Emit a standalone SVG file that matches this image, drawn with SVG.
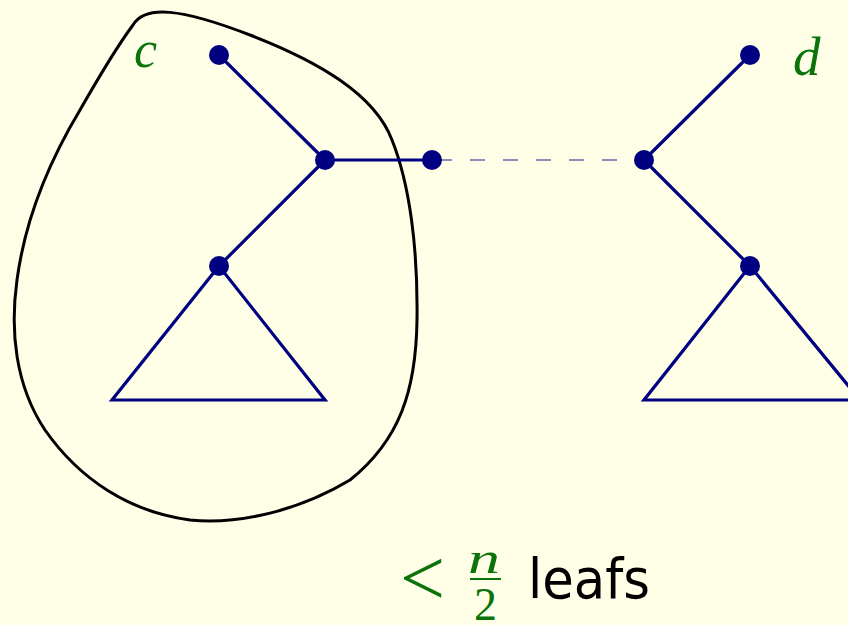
<svg xmlns="http://www.w3.org/2000/svg" width="848" height="625" viewBox="0 0 848 625">
<style>
.e{stroke:#000080;stroke-width:3.2;fill:none;stroke-linejoin:miter}
.n{fill:#000080}
.m{font-family:"Liberation Serif","DejaVu Serif",serif;font-style:italic;fill:#0a730a}
</style>
<rect width="848" height="625" fill="#FFFFE8"/>
<g id="region">
<path d="M133,25 C145,5 180,8 250,35 C320,62 375,95 392,140 C410,185 418,250 417,320 C416,390 400,440 350,480 C300,510 240,525 190,520 C130,512 80,480 45,430 C15,385 10,330 17,280 C25,220 50,160 80,110 C100,75 118,45 133,25 Z" fill="none" stroke="#000" stroke-width="3"/>
</g>
<g id="connectors">
<line class="e" x1="219" y1="55" x2="325" y2="160"/>
<line class="e" x1="325" y1="160" x2="432" y2="160"/>
<line class="e" x1="325" y1="160" x2="219" y2="266"/>
<path class="e" d="M219,266 L112,400 L325,400 Z"/>
<line x1="432" y1="160" x2="644" y2="160" stroke="#6a6aaa" stroke-width="1.5" stroke-dasharray="15 18" stroke-dashoffset="-5"/>
<line class="e" x1="750" y1="55" x2="644" y2="160"/>
<line class="e" x1="644" y1="160" x2="750" y2="266"/>
<path class="e" d="M750,266 L644,400 L860,400 L750,266"/>
</g>
<g id="n1"><circle class="n" cx="219" cy="55" r="10"/></g>
<g id="n2"><circle class="n" cx="325" cy="160" r="10"/></g>
<g id="n3"><circle class="n" cx="432" cy="160" r="10"/></g>
<g id="n4"><circle class="n" cx="219" cy="266" r="10"/></g>
<g id="n5"><circle class="n" cx="750" cy="55" r="10"/></g>
<g id="n6"><circle class="n" cx="644" cy="160" r="10"/></g>
<g id="n7"><circle class="n" cx="750" cy="266" r="10"/></g>
<g id="labels">
<text class="m" x="134" y="67" font-size="52">c</text>
<text class="m" x="793" y="75" font-size="55">d</text>
<text x="400" y="605" font-family="Liberation Serif,serif" font-size="80" fill="#0a730a">&lt;</text>
<text class="m" x="468" y="573" font-size="44" textLength="32" lengthAdjust="spacingAndGlyphs">n</text>
<line x1="470" y1="579" x2="501" y2="579" stroke="#0a730a" stroke-width="2"/>
<text x="474" y="620" font-family="Liberation Serif,serif" font-size="46" fill="#0a730a">2</text>
<text x="528" y="598" font-family="DejaVu Sans,sans-serif" font-size="56" fill="#000" textLength="122" lengthAdjust="spacingAndGlyphs">leafs</text>
</g>
</svg>
